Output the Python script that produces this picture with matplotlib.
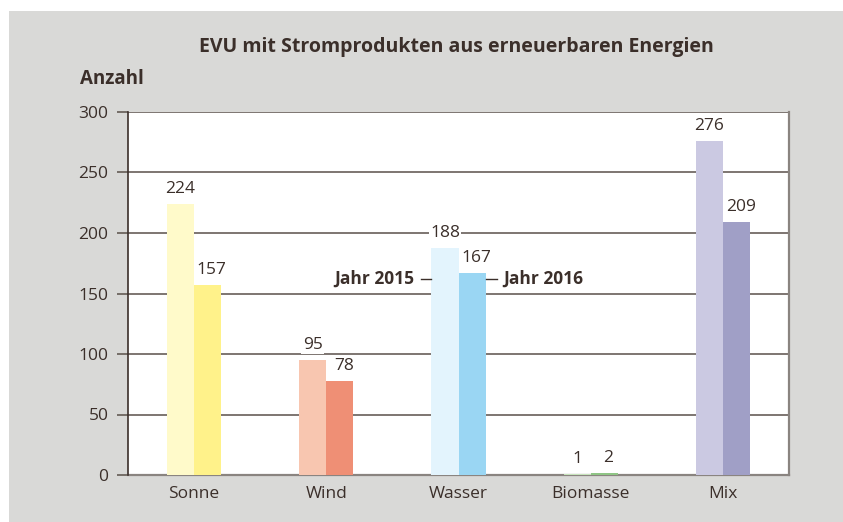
import numpy as np
import matplotlib.pyplot as plt
from matplotlib.patches import Rectangle

plt.rcParams['font.family'] = ['Open Sans', 'DejaVu Sans']

categories = ['Sonne', 'Wind', 'Wasser', 'Biomasse', 'Mix']
values_2015 = [224, 95, 188, 1, 276]
values_2016 = [157, 78, 167, 2, 209]
colors_2015 = ['#fffaca', '#f8c6b0', '#e3f4fd', '#c6e3bb', '#cbc9e2']
colors_2016 = ['#fff28a', '#ef8f75', '#9ad6f3', '#8fc585', '#a09fc6']

text_col = '#3b2f2a'
grid_col = '#5a504a'

fig = plt.figure(figsize=(8.43, 5.22), dpi=100)
fig.patch.set_facecolor('white')
fig.patches.append(Rectangle((9 / 843, 0), 1, 1 - 11 / 522, transform=fig.transFigure,
                             facecolor='#d9d9d7', edgecolor='none', zorder=-10))

ax = fig.add_axes([128 / 843, 47 / 522, (789 - 128) / 843, (475 - 112) / 522])
ax.set_facecolor('white')

x = np.arange(len(categories))
w = 0.205
b1 = ax.bar(x - w / 2, values_2015, w, color=colors_2015, zorder=3)
b2 = ax.bar(x + w / 2, values_2016, w, color=colors_2016, zorder=3)

for bars, dx in ((b1, 0), (b2, 3)):
    for r in bars:
        ax.annotate(f'{int(r.get_height())}', (r.get_x() + r.get_width() / 2, r.get_height()),
                    xytext=(dx, 5), textcoords='offset points', ha='center', va='bottom',
                    fontsize=12.5, color=text_col, zorder=1.5,
                    bbox=dict(facecolor='white', edgecolor='none', pad=1))

ax.set_xlim(-0.5, 4.5)
ax.set_ylim(0, 300)
ax.set_yticks(np.arange(0, 301, 50))
ax.set_xticks(x)
ax.set_xticklabels(categories)
ax.yaxis.grid(True, color=grid_col, linewidth=1.1, zorder=1)
ax.set_axisbelow(True)
ax.tick_params(axis='y', length=8, width=1.1, color=grid_col, labelsize=12.5,
               labelcolor=text_col, pad=6)
ax.tick_params(axis='x', length=0, labelsize=12.5, labelcolor=text_col, pad=8)

ax.spines['top'].set_visible(False)
ax.spines['left'].set_color(text_col)
ax.spines['left'].set_linewidth(1.2)
for s in ('bottom', 'right'):
    ax.spines[s].set_color('#8a8480')
    ax.spines[s].set_linewidth(1.6)
    ax.spines[s].set_zorder(2)

# year labels next to the Wasser bars
y_lab = 162
x_left = 2 - w
x_right = 2 + w
ax.plot([x_left - 0.08, x_left], [y_lab, y_lab], color=text_col, lw=1, zorder=3)
ax.plot([x_right, x_right + 0.09], [y_lab, y_lab], color=text_col, lw=1, zorder=3)
ax.text(x_left - 0.13, y_lab, 'Jahr 2015', ha='right', va='center', fontsize=12.5,
        fontweight='bold', color=text_col, zorder=4,
        bbox=dict(facecolor='white', edgecolor='none', pad=1))
ax.text(x_right + 0.13, y_lab, 'Jahr 2016', ha='left', va='center', fontsize=12.5,
        fontweight='bold', color=text_col, zorder=4,
        bbox=dict(facecolor='white', edgecolor='none', pad=1))

fig.text(456 / 843, 1 - 47 / 522, 'EVU mit Stromprodukten aus erneuerbaren Energien',
         ha='center', va='center', fontsize=14, fontweight='bold', color=text_col)
fig.text(80 / 843, 1 - 79 / 522, 'Anzahl', ha='left', va='center', fontsize=13.5,
         fontweight='bold', color=text_col)

fig.savefig('out.png', dpi=100)
